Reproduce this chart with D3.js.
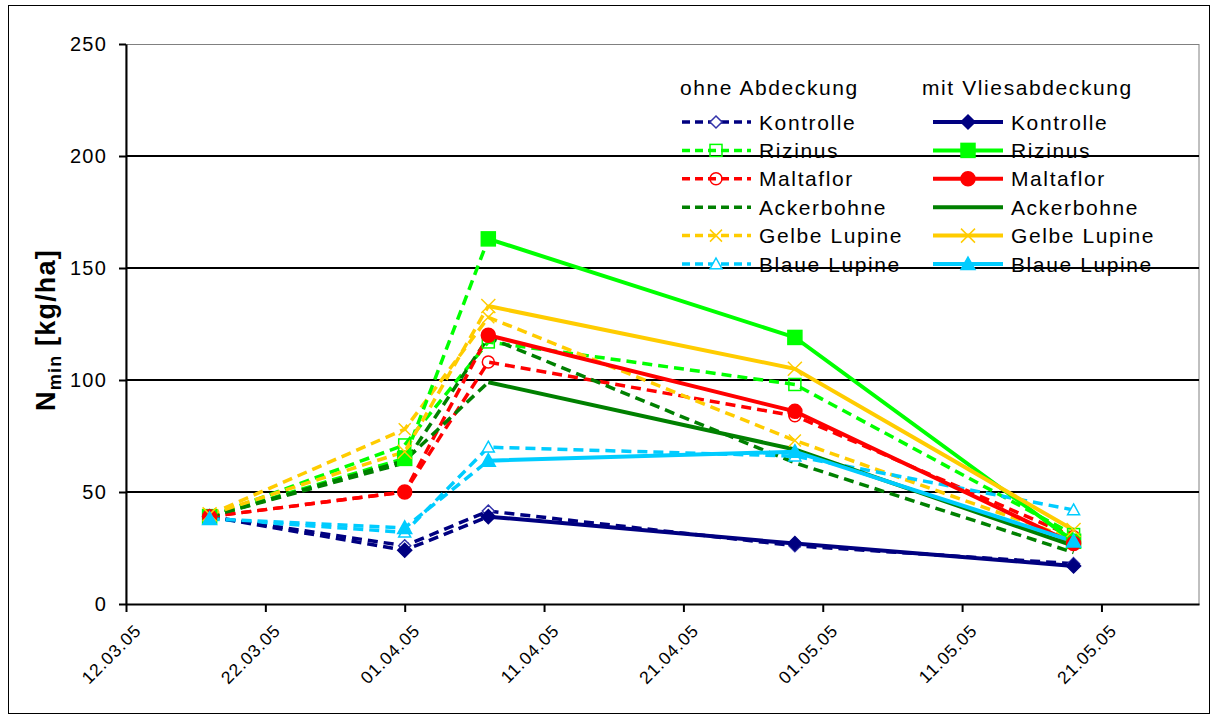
<!DOCTYPE html>
<html lang="de">
<head>
<meta charset="UTF-8">
<title>Nmin Verlauf</title>
<style>
    body { margin: 0; background: #fff; font-family: "Liberation Sans", Arial, sans-serif; }
    text { font-family: "Liberation Sans", Arial, sans-serif; }
</style>
</head>
<body>
<svg id="chart" width="1216" height="720"></svg>
<script src="https://d3js.org/d3.v7.min.js"></script>
<script>
// sampling dates
const sampleDates = ["2005-03-18", "2005-04-01", "2005-04-07", "2005-04-29", "2005-05-19"];
const tickDates = ["2005-03-12", "2005-03-22", "2005-04-01", "2005-04-11", "2005-04-21", "2005-05-01", "2005-05-11", "2005-05-21"];
const yTicks = [0, 50, 100, 150, 200, 250];

const treatments = ["Kontrolle", "Rizinus", "Maltaflor", "Ackerbohne", "Gelbe Lupine", "Blaue Lupine"];
const colors = ["#000080", "#00ff00", "#ff0000", "#008000", "#ffcc00", "#00ccff"];
const markers = ["diamond", "square", "circle", "none", "cross", "triangle"];

// ohne Abdeckung (dashed, open markers)
const ohneKontrolle   = [39, 26, 41.5, 26, 18];
const ohneRizinus     = [39, 71, 117, 98, 31];
const ohneMaltaflor   = [39, 50, 108, 84, 30];
const ohneAckerbohne  = [39, 63, 119, 63, 23];
const ohneGelbe       = [40, 78, 128, 73, 29];
const ohneBlaue       = [38, 32, 70, 66, 42];

// mit Vliesabdeckung (solid, filled markers)
const mitKontrolle    = [39, 24, 39, 27, 17];
const mitRizinus      = [39, 65, 163, 119, 28];
const mitMaltaflor    = [39, 50, 120, 86, 27];
const mitAckerbohne   = [39, 64, 99, 69, 26];
const mitGelbe        = [40, 68, 133, 105, 33];
const mitBlaue        = [38, 34, 64, 68, 28];

const ohneSeries = [ohneKontrolle, ohneRizinus, ohneMaltaflor, ohneAckerbohne, ohneGelbe, ohneBlaue];
const mitSeries  = [mitKontrolle, mitRizinus, mitMaltaflor, mitAckerbohne, mitGelbe, mitBlaue];

const parse = d3.utcParse("%Y-%m-%d");
const fmt = d3.utcFormat("%d.%m.%y");

const svg = d3.select("#chart");

// outer chart border
svg.append("rect")
    .attr("x", 8.5).attr("y", 5.5)
    .attr("width", 1201).attr("height", 708)
    .attr("fill", "none").attr("stroke", "#000").attr("stroke-width", 1);

const plot = { left: 126, right: 1199, top: 44, bottom: 604 };

const x = d3.scaleUtc()
    .domain([parse("2005-03-12"), parse("2005-05-28")])
    .range([plot.left, plot.right]);

const y = d3.scaleLinear()
    .domain([0, 250])
    .range([plot.bottom, plot.top]);

// plot area border (grey)
svg.append("rect")
    .attr("x", plot.left).attr("y", plot.top + 0.5)
    .attr("width", plot.right - plot.left).attr("height", plot.bottom - plot.top)
    .attr("fill", "none").attr("stroke", "#808080").attr("stroke-width", 1);

// gridlines
svg.append("g")
    .selectAll("line")
    .data(yTicks.filter(d => d > 0 && d < 250))
    .enter().append("line")
    .attr("x1", plot.left).attr("x2", plot.right)
    .attr("y1", d => y(d)).attr("y2", d => y(d))
    .attr("stroke", "#000").attr("stroke-width", 2);

// y axis
const yAxis = svg.append("g")
    .attr("transform", `translate(${plot.left},0)`)
    .call(d3.axisLeft(y).tickValues(yTicks).tickSize(7).tickPadding(12).tickSizeOuter(0));
yAxis.select(".domain").attr("stroke", "#000").attr("stroke-width", 2);
yAxis.selectAll(".tick line").attr("stroke", "#000").attr("stroke-width", 2);
yAxis.selectAll(".tick text")
    .attr("font-size", 20).attr("letter-spacing", 1.2).attr("fill", "#000");

// x axis
const xAxis = svg.append("g")
    .attr("transform", `translate(0,${plot.bottom})`)
    .call(d3.axisBottom(x).tickValues(tickDates.map(parse)).tickFormat(fmt).tickSize(8).tickSizeOuter(0));
xAxis.select(".domain").attr("stroke", "#000").attr("stroke-width", 2);
xAxis.selectAll(".tick line").attr("stroke", "#000").attr("stroke-width", 2);
xAxis.selectAll(".tick text")
    .attr("font-size", 17.5).attr("letter-spacing", 0.9).attr("fill", "#000")
    .attr("text-anchor", "end")
    .attr("dy", 0)
    .attr("transform", "translate(8,20) rotate(-45)");

// y axis title
const yTitle = svg.append("text")
    .attr("transform", "translate(55,330) rotate(-90)")
    .attr("text-anchor", "middle")
    .attr("font-size", 27).attr("font-weight", "bold").attr("letter-spacing", 1.2);
yTitle.append("tspan").text("N");
yTitle.append("tspan").attr("font-size", 18).attr("dy", 6).text("min");
yTitle.append("tspan").attr("dy", -6).text(" [kg/ha]");

// marker drawing
function drawMarker(g, type, color, filled, size) {
    const fill = filled ? color : "none";
    const s = size;
    if (type === "diamond") {
        g.append("path").attr("d", `M0,${-s}L${s},0L0,${s}L${-s},0Z`)
            .attr("fill", filled ? color : "#fff").attr("stroke", filled ? color : "#3333aa").attr("stroke-width", 1.5);
    } else if (type === "square") {
        g.append("rect").attr("x", -s).attr("y", -s).attr("width", 2 * s).attr("height", 2 * s)
            .attr("fill", fill).attr("stroke", color).attr("stroke-width", 1.5);
    } else if (type === "circle") {
        g.append("circle").attr("r", s)
            .attr("fill", fill).attr("stroke", color).attr("stroke-width", 1.5);
    } else if (type === "triangle") {
        g.append("path").attr("d", `M0,${-s}L${s},${s * 0.8}L${-s},${s * 0.8}Z`)
            .attr("fill", filled ? color : "#fff").attr("stroke", color).attr("stroke-width", 1.5);
    } else if (type === "cross") {
        g.append("path").attr("d", `M${-s},${-s}L${s},${s}M${-s},${s}L${s},${-s}`)
            .attr("stroke", color).attr("stroke-width", 1.5);
    }
}

const line = d3.line()
    .x(d => x(d.date))
    .y(d => y(d.value));

function toPoints(values) {
    return values.map((v, i) => ({ date: parse(sampleDates[i]), value: v }));
}

const series = svg.append("g");

// ohne series: dashed lines
ohneSeries.forEach((vals, i) => {
    series.append("path")
        .datum(toPoints(vals))
        .attr("d", line)
        .attr("fill", "none")
        .attr("stroke", colors[i])
        .attr("stroke-width", 3.5)
        .attr("stroke-dasharray", "10,6");
});

// mit series: early segments dashed (before cover), then solid
mitSeries.forEach((vals, i) => {
    const pts = toPoints(vals);
    series.append("path")
        .datum(pts.slice(0, 3))
        .attr("d", line)
        .attr("fill", "none")
        .attr("stroke", colors[i])
        .attr("stroke-width", 3.5)
        .attr("stroke-dasharray", "10,6");
    series.append("path")
        .datum(pts.slice(2))
        .attr("d", line)
        .attr("fill", "none")
        .attr("stroke", colors[i])
        .attr("stroke-width", 4);
});

// markers
ohneSeries.forEach((vals, i) => {
    toPoints(vals).forEach(p => {
        const g = series.append("g").attr("transform", `translate(${x(p.date)},${y(p.value)})`);
        drawMarker(g, markers[i], colors[i], false, 6);
    });
});
mitSeries.forEach((vals, i) => {
    toPoints(vals).forEach(p => {
        const g = series.append("g").attr("transform", `translate(${x(p.date)},${y(p.value)})`);
        drawMarker(g, markers[i], colors[i], true, 7);
    });
});

// legend
const legend = svg.append("g").attr("font-size", 21).attr("letter-spacing", 1.6).attr("fill", "#000");
legend.append("text").attr("x", 680).attr("y", 95).text("ohne Abdeckung");
legend.append("text").attr("x", 922).attr("y", 95).text("mit Vliesabdeckung");

treatments.forEach((name, i) => {
    const ly = 122 + i * 28.4;
    // ohne
    legend.append("line")
        .attr("x1", 682).attr("x2", 751).attr("y1", ly).attr("y2", ly)
        .attr("stroke", colors[i]).attr("stroke-width", 3.5).attr("stroke-dasharray", "8,5");
    drawMarker(legend.append("g").attr("transform", `translate(716,${ly})`), markers[i], colors[i], false, 6);
    legend.append("text").attr("x", 759).attr("y", ly + 7.5).text(name);
    // mit
    legend.append("line")
        .attr("x1", 933).attr("x2", 1003).attr("y1", ly).attr("y2", ly)
        .attr("stroke", colors[i]).attr("stroke-width", 4);
    drawMarker(legend.append("g").attr("transform", `translate(968,${ly})`), markers[i], colors[i], true, 7);
    legend.append("text").attr("x", 1011).attr("y", ly + 7.5).text(name);
});
</script>
</body>
</html>
